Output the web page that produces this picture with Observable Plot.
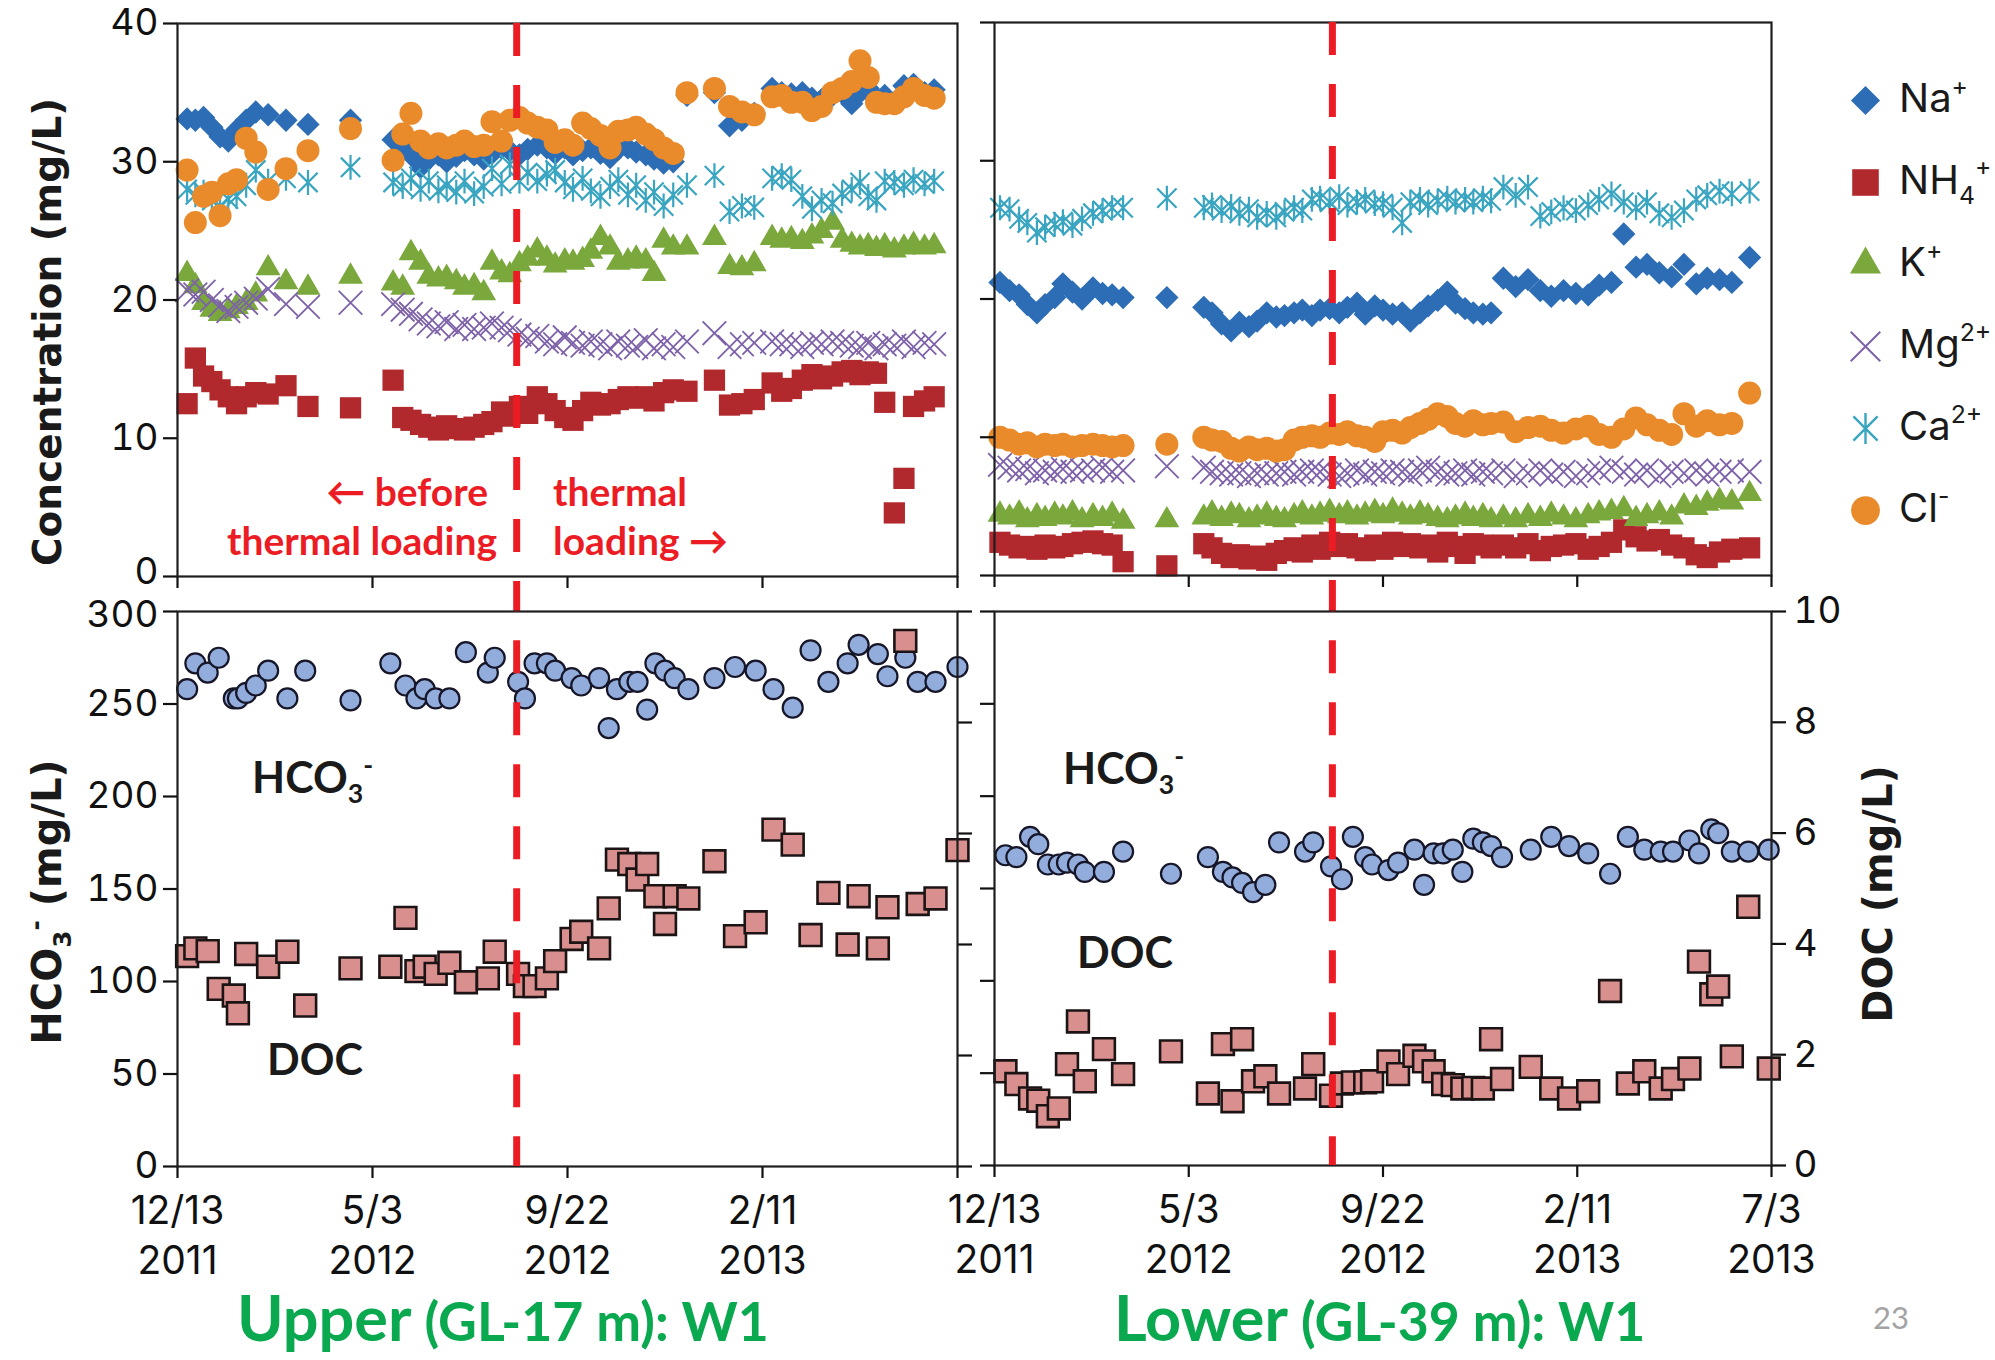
<!DOCTYPE html>
<html><head><meta charset="utf-8">
<script src="https://cdn.jsdelivr.net/npm/d3@7"></script>
<script src="https://cdn.jsdelivr.net/npm/@observablehq/plot@0.6"></script>
<style>
html,body{margin:0;padding:0;background:#fff;}
#fig{position:relative;width:1995px;height:1360px;background:#fff;overflow:hidden;}
#fig svg{position:absolute;overflow:visible;}
</style></head>
<body><div id="fig"></div>
<script>
// ---------------- DATA ----------------
const sampleBase = "2011-12-13";            // day 0 of the sample-day arrays
const tickDates = ["2011-12-13","2012-05-03","2012-09-22","2013-02-11","2013-07-03"];
const tickTop = ["12/13","5/3","9/22","2/11","7/3"];
const tickBottom = ["2011","2012","2012","2013","2013"];
const thermalStart = "2012-08-16";
const concTicks = [0,10,20,30,40];
const hco3Ticks = [0,50,100,150,200,250,300];
const docTicks = [0,2,4,6,8,10];

const ionNames = ["Na+","NH4+","K+","Mg2+","Ca2+","Cl-"];

// Upper (GL-17 m) cations/anions: sample days since 2011-12-13
const upperIonDay = [7,13,19,25,31,37,43,50,57,66,79,95,126,
 157,164,170,177,183,190,196,203,209,216,223,229,236,242,249,255,262,269,275,282,288,295,301,308,315,321,328,334,341,347,354,361,
 371,391,402,411,420,433,440,447,455,462,469,477,484,491,497,503,509,515,522,529,536,544,551];
const upperNa = [33.1,33.0,33.2,32.5,31.8,31.5,32.3,33.0,33.6,33.4,33.0,32.7,33.0,
 31.6,31.2,30.5,29.6,30.2,30.5,30.0,30.4,30.8,30.5,30.2,30.6,31.0,30.8,30.5,30.9,31.2,31.0,30.6,31.0,30.5,30.8,31.0,30.6,30.3,30.9,31.0,30.7,30.5,30.2,29.9,30.0,
 34.8,35.0,32.6,33.0,33.5,35.3,35.0,34.9,35.0,34.6,34.5,34.8,35.0,34.2,35.0,35.3,34.5,34.8,34.3,35.5,35.6,35.0,35.2];
const upperNH4 = [12.5,15.8,14.5,14.1,13.5,13.0,12.5,13.0,13.3,13.2,13.8,12.3,12.2,
 14.2,11.5,11.3,11.0,10.8,10.6,10.9,10.7,10.6,10.8,11.0,11.2,11.9,11.6,12.3,11.8,13.0,12.5,12.0,11.5,11.3,12.0,12.6,12.4,12.5,12.8,13.0,12.9,13.0,12.7,13.3,13.5,
 13.4,14.2,12.4,12.5,12.8,14.0,13.4,13.6,14.2,14.6,14.3,14.5,14.8,14.9,14.6,14.8,14.7,12.6,4.6,7.1,12.3,12.7,13.0];
const upperK = [21.9,21.0,19.8,19.3,19.0,19.2,19.5,19.8,20.4,22.3,21.3,20.9,21.7,
 21.2,20.9,23.4,22.7,21.7,21.5,21.6,21.3,20.9,21.0,20.5,22.7,22.0,21.8,22.6,23.0,23.6,23.0,22.5,22.8,22.7,22.9,23.5,24.5,23.8,22.7,22.8,23.0,22.8,21.9,24.3,23.8,
 23.8,24.5,22.4,22.3,22.6,24.5,24.3,24.4,24.2,24.6,25.0,25.6,24.3,24.0,23.8,23.9,23.7,23.9,23.6,23.8,24.0,23.8,23.9];
const upperMg = [20.7,20.4,20.6,20.0,19.6,19.2,19.5,19.8,20.1,20.8,19.7,19.5,19.8,
 19.7,19.3,19.0,18.6,18.3,18.1,18.4,17.9,18.2,17.9,18.0,18.3,18.0,17.8,17.5,17.2,17.4,17.0,16.8,17.3,16.9,16.7,17.0,16.8,16.5,17.0,16.7,16.6,17.1,16.5,16.8,16.6,
 17.0,17.6,16.6,16.8,16.9,17.0,16.8,16.8,16.6,16.9,16.8,17.0,16.9,16.7,16.6,16.9,16.5,16.8,16.7,17.0,16.6,16.9,16.8];
const upperCa = [28.0,27.6,27.8,27.2,26.8,27.3,27.5,28.3,29.4,28.6,28.8,28.5,29.6,
 28.5,28.2,28.8,28.0,28.6,27.9,28.3,27.8,28.6,27.7,28.2,29.5,28.4,29.8,28.6,29.2,28.6,29.1,29.4,28.5,28.0,28.8,27.9,27.5,28.2,28.7,27.6,28.3,27.2,27.8,26.8,27.6,
 28.3,29.0,26.4,26.8,26.7,28.8,29.0,28.7,27.5,26.6,27.2,27.0,27.7,28.0,28.5,27.5,27.2,28.6,28.5,28.3,28.7,28.4,28.6];
const upperCl = [29.4,25.6,27.5,27.8,26.1,28.4,28.7,31.7,30.7,28.0,29.5,30.8,32.4,
 30.1,32.0,33.5,31.5,31.0,31.3,31.0,31.2,31.5,31.1,31.2,32.9,31.5,33.0,33.2,32.8,32.5,32.3,31.4,31.6,31.2,32.8,32.4,31.9,31.0,32.2,32.3,32.5,32.0,31.6,31.0,30.6,
 35.0,35.3,34.0,33.6,33.4,34.7,34.8,34.3,34.3,33.7,34.0,35.0,35.3,35.8,37.3,36.1,34.3,34.2,34.2,34.7,35.3,34.8,34.6];

// Lower (GL-39 m) cations/anions
const lowerIonDay = [4,11,18,24,31,37,44,50,57,64,72,79,86,94,126,
 153,159,166,173,179,186,192,199,206,212,219,225,232,238,245,252,258,265,271,278,284,291,298,304,311,317,324,331,337,344,350,357,363,
 372,381,390,399,407,416,425,434,442,451,460,469,477,486,495,504,513,521,530,539,552];
const lowerNa = [21.2,20.6,20.3,19.6,19.0,19.6,20.1,21.1,20.5,20.0,20.8,20.4,20.3,20.1,20.1,
 19.4,19.0,18.2,17.7,18.3,18.0,18.4,19.0,18.7,18.8,19.0,19.2,18.8,19.2,19.3,19.0,19.4,19.7,18.9,19.5,19.2,18.9,19.0,18.4,19.0,19.5,19.9,20.5,19.7,19.3,19.0,18.9,19.0,
 21.5,20.9,21.4,20.6,20.2,20.6,20.4,20.3,21.0,21.2,24.7,22.3,22.5,21.9,21.6,22.5,21.1,21.5,21.4,21.2,23.0];
const lowerNH4 = [2.4,2.2,2.0,2.1,1.9,2.2,2.0,2.1,2.3,2.4,2.5,2.3,2.2,1.0,0.7,
 2.3,2.0,1.6,1.3,1.5,1.2,1.4,1.1,1.6,1.8,2.0,1.7,2.2,1.9,2.4,2.1,2.3,2.0,1.8,2.2,1.9,2.4,2.1,2.3,2.0,2.2,1.7,2.4,2.1,1.6,2.3,2.2,2.0,
 2.2,2.0,2.3,1.8,2.1,2.2,2.3,1.9,2.1,2.4,3.3,2.8,2.5,2.6,2.2,2.0,1.5,1.3,1.7,1.9,2.0];
const lowerK = [4.4,4.2,4.5,4.0,4.3,4.1,4.4,4.2,4.5,4.0,4.3,4.1,4.4,3.9,4.0,
 4.2,4.5,4.1,4.4,4.3,4.0,4.2,4.4,4.1,4.0,4.3,4.5,4.2,4.4,4.6,4.3,4.5,4.2,4.4,4.6,4.3,4.7,4.4,4.2,4.5,4.3,4.1,4.0,4.2,4.4,4.1,4.3,4.0,
 4.2,4.0,4.3,4.1,4.4,4.2,4.0,4.3,4.5,4.6,4.8,4.1,4.3,4.5,4.2,5.0,4.9,5.2,5.4,5.3,5.9];
const lowerMg = [8.0,7.8,7.6,7.7,7.4,7.6,7.5,7.7,7.5,7.6,7.6,7.8,7.5,7.6,7.9,
 7.8,7.5,7.4,7.3,7.4,7.2,7.4,7.3,7.4,7.5,7.3,7.5,7.6,7.5,7.3,7.2,7.4,7.6,7.3,7.5,7.4,7.6,7.5,7.3,7.6,7.8,7.5,7.3,7.4,7.6,7.3,7.5,7.4,
 7.6,7.2,7.4,7.6,7.3,7.5,7.2,7.4,7.6,7.8,7.5,7.3,7.6,7.2,7.5,7.4,7.6,7.3,7.5,7.6,7.5];
const lowerCa = [26.6,26.5,25.8,25.5,24.8,25.2,25.4,25.6,25.3,25.8,26.2,26.4,26.6,26.6,27.3,
 26.6,26.8,26.4,26.7,26.2,26.5,25.9,26.2,25.9,26.3,26.6,26.4,27.2,27.3,27.0,27.4,26.8,27.0,27.2,26.9,26.9,26.6,25.5,27.0,27.2,26.8,27.1,27.3,27.0,27.2,27.0,27.3,27.1,
 28.1,27.5,28.1,26.0,26.3,26.6,26.4,26.8,27.2,27.6,27.0,26.6,27.0,26.2,25.9,26.4,27.2,27.5,27.8,27.6,27.8];
const lowerCl = [10.0,9.8,9.5,9.6,9.3,9.5,9.4,9.5,9.3,9.4,9.5,9.4,9.3,9.4,9.5,
 10.0,9.8,9.7,9.2,9.0,9.3,9.1,9.2,9.0,9.1,9.8,10.0,10.1,10.0,10.3,10.2,10.4,10.1,10.0,9.7,10.4,10.5,10.3,10.7,11.0,11.3,11.7,11.5,11.0,10.8,11.2,10.9,11.0,
 11.1,10.4,10.7,10.8,10.5,10.3,10.6,10.8,10.2,10.0,10.6,11.4,10.9,10.5,10.2,11.7,10.8,11.2,10.9,11.0,13.2];

// HCO3- (mg/L) and DOC (mg/L)
const upperBotDay = [7,13,22,30,41,44,50,57,66,80,93,126,155,166,174,180,188,198,210,226,231,248,253,260,269,275,287,294,
 307,314,320,329,335,342,348,355,362,372,391,406,421,434,448,461,474,488,496,510,517,530,539,552,568];
const upperHCO3 = [258,272,267,275,253,253,256,260,268,253,268,252,272,260,253,258,253,253,278,267,275,262,253,272,272,268,264,260,
 264,237,258,262,262,247,272,268,264,258,264,270,268,258,248,279,262,272,282,277,265,275,262,262,270];
const upperDOC = [3.79,3.93,3.88,3.20,3.08,2.76,3.83,null,3.60,3.87,2.90,3.57,3.60,4.48,3.52,3.60,3.47,3.67,3.32,3.39,3.87,3.47,3.25,3.25,3.39,3.70,4.10,4.23,
 3.93,4.65,5.53,5.45,5.17,5.45,4.87,4.37,4.87,4.83,5.50,4.15,4.40,6.07,5.80,4.17,4.93,4.00,4.87,3.93,4.67,9.47,4.73,4.83,5.70];

const lowerBotDay = [8,16,26,32,39,47,53,61,66,80,94,129,156,167,174,181,189,198,208,227,233,246,254,262,271,276,288,295,307,314,
 321,328,335,342,350,357,363,371,392,407,420,434,450,463,475,487,496,508,515,524,529,539,551,566];
const lowerHCO3 = [168,167,178,174,163,163,164,163,159,159,170,158,167,159,156,153,148,152,175,170,175,162,155,178,167,163,160,164,171,152,
 169,169,171,159,177,175,173,167,171,178,173,169,158,178,171,170,170,176,169,182,180,170,170,171];
const lowerDOC = [1.70,1.47,1.21,1.17,0.89,1.03,1.83,2.60,1.52,2.10,1.65,2.06,1.30,2.19,1.16,2.28,1.52,1.61,1.30,1.39,1.83,1.26,1.48,1.50,1.50,1.52,1.88,1.65,1.98,1.88,
 1.70,1.47,1.45,1.39,1.40,1.39,2.28,1.56,1.78,1.39,1.21,1.34,3.15,1.48,1.70,1.39,1.56,1.75,3.68,3.09,3.23,1.97,4.67,1.75];

// ---------------- STYLE ----------------
// six-armed star: vertical bar plus a 45° cross
const starX = {
  draw(ctx, size) {
    const r = Math.sqrt(size / Math.PI) * 1.05, u = r * 0.78;
    ctx.moveTo(0, -r); ctx.lineTo(0, r);
    ctx.moveTo(-u, -u); ctx.lineTo(u, u);
    ctx.moveTo(-u, u); ctx.lineTo(u, -u);
  }
};
const ionStyle = [
  {symbol:"diamond2", color:"#2c6db5", r:10.5, filled:true},
  {symbol:"square",   color:"#b1292d", r:12,   filled:true},
  {symbol:"triangle", color:"#7aa83c", r:9.2,  filled:true},
  {symbol:"times",    color:"#7e62a9", r:10.8, filled:false, sw:1.8},
  {symbol:starX,      color:"#39a5c1", r:11.8, filled:false, sw:2.2},
  {symbol:"circle",   color:"#e98a2b", r:11.5, filled:true}
];
const DOC_PER_AXIS = 300 / 10;   // DOC 0–10 shares the HCO3 0–300 axis
const tickFont = "Inter, 'Liberation Sans', Arial, sans-serif";
const titleFont = "'DejaVu Sans', Verdana, sans-serif";
const calFont = "Lato, 'Open Sans', sans-serif";
const RED = "#ec1c24";

// frames (pixel boxes of the four panels)
const FR = {
  tl:{x0:177, x1:957, y0:23, y1:576},
  tr:{x0:994, x1:1771, y0:22, y1:575},
  bl:{x0:177, x1:957, y0:611, y1:1166},
  br:{x0:994, x1:1771, y0:611, y1:1165}
};

// ---------------- BUILD ----------------
const fig = document.getElementById("fig");
const parse = d3.utcParse("%Y-%m-%d");
const base = parse(sampleBase);
const xTicks = tickDates.map(parse);
const xDomain = [xTicks[0], xTicks[xTicks.length - 1]];
const thermal = parse(thermalStart);

function rows(days, values) {
  return days.map((d, i) => ({date: d3.utcDay.offset(base, d), value: values[i]}))
             .filter(r => r.value != null);
}
function paintOf(st, scale) {
  return st.filled ? {fill: st.color, stroke: "none"}
                   : {fill: "none", stroke: st.color, strokeWidth: st.sw * scale};
}
function ionMarks(days, table) {
  return table.map((vals, k) => {
    const st = ionStyle[k];
    return Plot.dot(rows(days, vals), {x: "date", y: "value", symbol: st.symbol, r: st.r, ...paintOf(st, 1)});
  });
}
function place(fr, m, yDomain, marks) {
  const svg = Plot.plot({
    width: fr.x1 - fr.x0 + m.l + m.r,
    height: fr.y1 - fr.y0 + m.t + m.b,
    marginLeft: m.l, marginRight: m.r, marginTop: m.t, marginBottom: m.b,
    x: {type: "utc", domain: xDomain},
    y: {domain: yDomain},
    style: {background: "transparent", overflow: "visible", fontFamily: tickFont, fontSize: "37px", color: "#111", maxWidth: "none"},
    marks
  });
  svg.style.left = (fr.x0 - m.l) + "px";
  svg.style.top = (fr.y0 - m.t) + "px";
  fig.appendChild(svg);
  return svg;
}
const frame = () => Plot.frame({stroke: "#1e1e1e", strokeWidth: 2.2});
const blank = () => "";
const xAxisTicks = () => Plot.axisX(xTicks, {anchor: "bottom", tickSize: 12, strokeWidth: 2.2, tickFormat: blank, label: null});
const xLabels = (n) => Plot.text(xTicks.slice(0, n), {
  x: d => d, text: (d, i) => tickTop[i] + "\n" + tickBottom[i],
  frameAnchor: "bottom", lineAnchor: "top", dy: 21, lineHeight: 1.3, fontSize: 39, fill: "#111"
});
const dash = (extra) => Plot.ruleX([thermal], {stroke: RED, strokeWidth: 7, strokeDasharray: "33,29", ...extra});
// left y axis: ticks everywhere, with one end label nudged away from the neighbouring panel
function leftAxis(ticks, nudged, dy) {
  return [
    Plot.axisY(ticks, {anchor: "left", tickSize: 14, tickPadding: 5, strokeWidth: 2.2, label: null,
      tickFormat: d => d === nudged ? "" : String(d)}),
    Plot.axisY([nudged], {anchor: "left", tickSize: 0, tickPadding: 19, label: null, dy})
  ];
}

const upperTable = [upperNa, upperNH4, upperK, upperMg, upperCa, upperCl];
const lowerTable = [lowerNa, lowerNH4, lowerK, lowerMg, lowerCa, lowerCl];

// top-left
place(FR.tl, {l:110, r:12, t:8, b:40}, [0, 40], [
  ...ionMarks(upperIonDay, upperTable),
  ...leftAxis(concTicks, 0, -4),
  xAxisTicks(),
  frame(),
  dash({insetBottom: -35})
]);
// top-right
place(FR.tr, {l:20, r:12, t:8, b:40}, [0, 40], [
  ...ionMarks(lowerIonDay, lowerTable),
  Plot.axisY(concTicks, {anchor: "left", tickSize: 14, strokeWidth: 2.2, tickFormat: blank, label: null}),
  xAxisTicks(),
  frame(),
  dash({insetBottom: -36})
]);

const hco3Dot = {r: 10, fill: "#92acdb", stroke: "#161628", strokeWidth: 2.2};
const docDot = {symbol: "square", r: 12.3, fill: "#d88f8e", stroke: "#1c1414", strokeWidth: 2.6};
// bottom-left
place(FR.bl, {l:110, r:25, t:10, b:120}, [0, 300], [
  Plot.dot(rows(upperBotDay, upperHCO3), {x: "date", y: "value", ...hco3Dot}),
  Plot.dot(rows(upperBotDay, upperDOC), {x: "date", y: d => d.value * DOC_PER_AXIS, ...docDot}),
  ...leftAxis(hco3Ticks, 300, 4),
  Plot.axisY(docTicks.map(d => d * DOC_PER_AXIS), {anchor: "right", tickSize: 14, strokeWidth: 2.2, tickFormat: blank, label: null}),
  xAxisTicks(),
  xLabels(4),
  frame(),
  dash({strokeDashoffset: 32.7})
]);
// bottom-right
place(FR.br, {l:20, r:90, t:10, b:120}, [0, 300], [
  Plot.dot(rows(lowerBotDay, lowerHCO3), {x: "date", y: "value", ...hco3Dot}),
  Plot.dot(rows(lowerBotDay, lowerDOC), {x: "date", y: d => d.value * DOC_PER_AXIS, ...docDot}),
  Plot.axisY(hco3Ticks, {anchor: "left", tickSize: 14, strokeWidth: 2.2, tickFormat: blank, label: null}),
  Plot.axisY(docTicks.map(d => d * DOC_PER_AXIS), {anchor: "right", tickSize: 14, tickPadding: 8, strokeWidth: 2.2, tickFormat: d => d / DOC_PER_AXIS, label: null}),
  xAxisTicks(),
  xLabels(5),
  frame(),
  dash({strokeDashoffset: 32.7})
]);

// legend symbols (Plot)
const legendPlot = Plot.plot({
  width: 60, height: 600, margin: 0,
  y: {type: "point", domain: ionNames, range: [99, 511], padding: 0, axis: null},
  style: {background: "transparent", overflow: "visible", maxWidth: "none"},
  marks: ionNames.map((name, k) => {
    const st = ionStyle[k];
    return Plot.dot([name], {y: d => d, frameAnchor: "middle", symbol: st.symbol, r: st.r * 1.25, ...paintOf(st, 1.1)});
  })
});
legendPlot.style.left = "1835px"; legendPlot.style.top = "0px";
fig.appendChild(legendPlot);
const legendY = legendPlot.scale("y");

// ---------------- TEXT OVERLAY ----------------
const ov = d3.select(fig).append("svg").attr("width", 1995).attr("height", 1360)
  .style("left", "0px").style("top", "0px").style("pointer-events", "none");

function rich(parent, parts, size, attrs) {
  const t = parent.append("text").attr("font-size", size);
  for (const k in attrs) t.attr(k, attrs[k]);
  let shift = 0;
  for (const [s, kind, rel] of parts) {
    const target = kind === "sup" ? -0.42 * size : kind === "sub" ? 0.24 * size : 0;
    const ts = t.append("tspan").attr("dy", target - shift).text(s);
    if (kind) ts.attr("font-size", size * 0.62);
    if (rel) ts.attr("font-size", size * rel);
    shift = target;
  }
  return t;
}

// axis titles
ov.append("text").attr("transform", "translate(61,332) rotate(-90)").attr("text-anchor", "middle")
  .attr("font-family", titleFont).attr("font-weight", "bold").attr("font-size", 39).attr("fill", "#1a1a1a")
  .text("Concentration (mg/L)");
rich(ov.append("g").attr("transform", "translate(61,902) rotate(-90)"),
  [["HCO"], ["3", "sub"], ["-", "sup"], [" (mg/L)"]], 40,
  {"text-anchor": "middle", "font-family": titleFont, "font-weight": "bold", fill: "#1a1a1a"});
ov.append("text").attr("transform", "translate(1892,894) rotate(-90)").attr("text-anchor", "middle")
  .attr("font-family", titleFont).attr("font-weight", "bold").attr("font-size", 40).attr("fill", "#1a1a1a")
  .text("DOC (mg/L)");

// thermal loading notes
const noteAttrs = {"font-family": calFont, "font-weight": "bold", fill: RED};
rich(ov, [["\u2190 before"]], 39, {...noteAttrs, x: 488, y: 506, "text-anchor": "end"});
rich(ov, [["thermal loading"]], 39, {...noteAttrs, x: 497, y: 555, "text-anchor": "end"});
rich(ov, [["thermal"]], 39, {...noteAttrs, x: 553, y: 506});
rich(ov, [["loading \u2192"]], 39, {...noteAttrs, x: 553, y: 555});

// series labels in lower panels
const lab = {"font-family": calFont, "font-weight": "bold", fill: "#1a1a1a"};
rich(ov, [["HCO"], ["3", "sub"], ["-", "sup"]], 43, {...lab, x: 252, y: 793});
rich(ov, [["DOC"]], 43, {...lab, x: 267, y: 1075});
rich(ov, [["HCO"], ["3", "sub"], ["-", "sup"]], 43, {...lab, x: 1063, y: 784});
rich(ov, [["DOC"]], 43, {...lab, x: 1077, y: 968});

// legend labels
const legendParts = [
  [["Na"], ["+", "sup"]],
  [["NH"], ["4", "sub"], ["+", "sup"]],
  [["K"], ["+", "sup"]],
  [["Mg"], ["2+", "sup"]],
  [["Ca"], ["2+", "sup"]],
  [["Cl"], ["-", "sup"]]
];
ionNames.forEach((name, k) => {
  rich(ov, legendParts[k], 40, {x: 1899, y: legendY.apply(name) + 12, "font-family": tickFont, fill: "#1a1a1a"});
});

// site titles
const green = {"font-family": calFont, "font-weight": "bold", fill: "#0aa84f"};
rich(ov, [["Upper", null, 1], [" (GL-17 m): W1", null, 0.85]], 63, {...green, x: 237, y: 1341});
rich(ov, [["Lower", null, 1], [" (GL-39 m): W1", null, 0.85]], 63, {...green, x: 1114, y: 1341});

// slide number
ov.append("text").attr("x", 1873).attr("y", 1329).attr("font-family", calFont)
  .attr("font-size", 31).attr("fill", "#a3a3a3").text("23");
</script>
</body></html>
